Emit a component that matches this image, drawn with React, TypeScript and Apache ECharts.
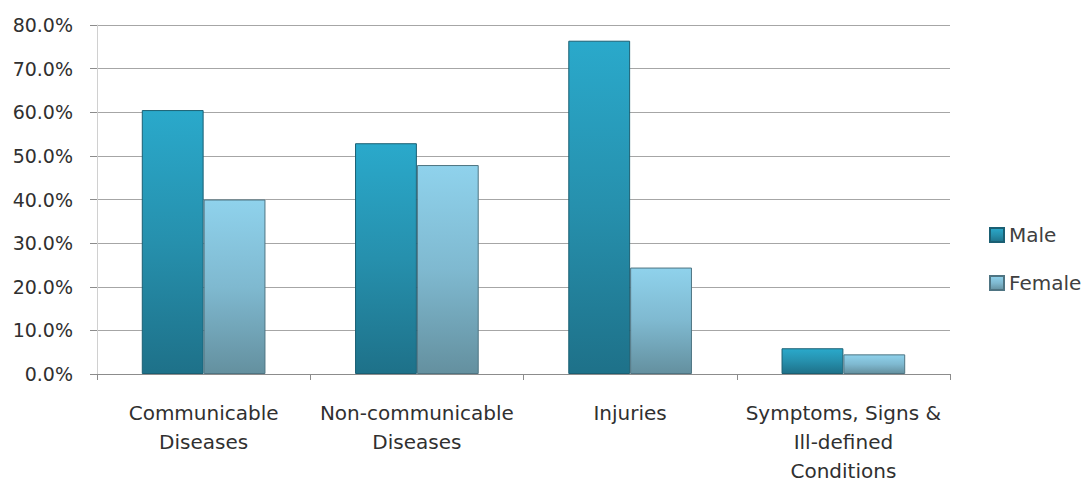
import React, { useEffect, useRef } from "react";
import * as echarts from "echarts";

const categories = [
  "Communicable\nDiseases",
  "Non-communicable\nDiseases",
  "Injuries",
  "Symptoms, Signs &\nIll-defined\nConditions",
];
const maleValues = [60.5, 52.9, 76.4, 5.9];
const femaleValues = [40.0, 47.9, 24.4, 4.5];
const seriesNames = ["Male", "Female"];

const FONT = "'DejaVu Sans', sans-serif";

function grad(top: string, mid: string, bottom: string) {
  return new echarts.graphic.LinearGradient(0, 0, 0, 1, [
    { offset: 0, color: top },
    { offset: 0.5, color: mid },
    { offset: 1, color: bottom },
  ]);
}

export default function App() {
  const ref = useRef<HTMLDivElement>(null);
  useEffect(() => {
    document.body.style.margin = "0";
    if (!ref.current) return;
    const chart = echarts.init(ref.current, undefined, { renderer: "svg" });
    chart.setOption({
      animation: false,
      backgroundColor: "#ffffff",
      textStyle: { fontFamily: FONT },
      grid: { left: 97, right: 136, top: 25, bottom: 111, containLabel: false },
      legend: {
        orient: "vertical",
        left: 984,
        top: 220,
        itemGap: 28,
        itemWidth: 14,
        itemHeight: 14,
        icon: "rect",
        data: seriesNames,
        textStyle: { fontSize: 20, color: "#404040", fontFamily: FONT, padding: [0, 0, 0, 0] },
      },
      xAxis: {
        type: "category",
        data: categories,
        axisLine: { lineStyle: { color: "#8c8c8c", width: 1 } },
        axisTick: { show: true, length: 6, interval: 0, lineStyle: { color: "#8c8c8c" } },
        axisLabel: {
          interval: 0,
          margin: 24,
          fontSize: 20,
          lineHeight: 29,
          color: "#303030",
          fontFamily: FONT,
        },
      },
      yAxis: {
        type: "value",
        min: 0,
        max: 80,
        interval: 10,
        axisLine: { show: true, lineStyle: { color: "#d0d0d0" } },
        axisTick: { show: true, length: 7, lineStyle: { color: "#8c8c8c" } },
        splitLine: { lineStyle: { color: "#a6a6a6", width: 1 } },
        axisLabel: {
          margin: 24,
          fontSize: 19,
          color: "#303030",
          fontFamily: FONT,
          formatter: (v: number) => v.toFixed(1) + "%",
        },
      },
      series: [
        {
          name: seriesNames[0],
          type: "bar",
          data: maleValues,
          barWidth: "29%",
          barGap: "0%",
          itemStyle: {
            color: grad("#2aa9cb", "#2690ad", "#1e7189"),
            borderColor: "#1a5f73",
            borderWidth: 1,
          },
        },
        {
          name: seriesNames[1],
          type: "bar",
          data: femaleValues,
          barWidth: "29%",
          barGap: "0%",
          itemStyle: {
            color: grad("#8fd2ec", "#7fb9d0", "#64909f"),
            borderColor: "#4e7482",
            borderWidth: 1,
          },
        },
      ],
    });
    return () => chart.dispose();
  }, []);
  return <div ref={ref} style={{ width: 1086, height: 485 }} />;
}
